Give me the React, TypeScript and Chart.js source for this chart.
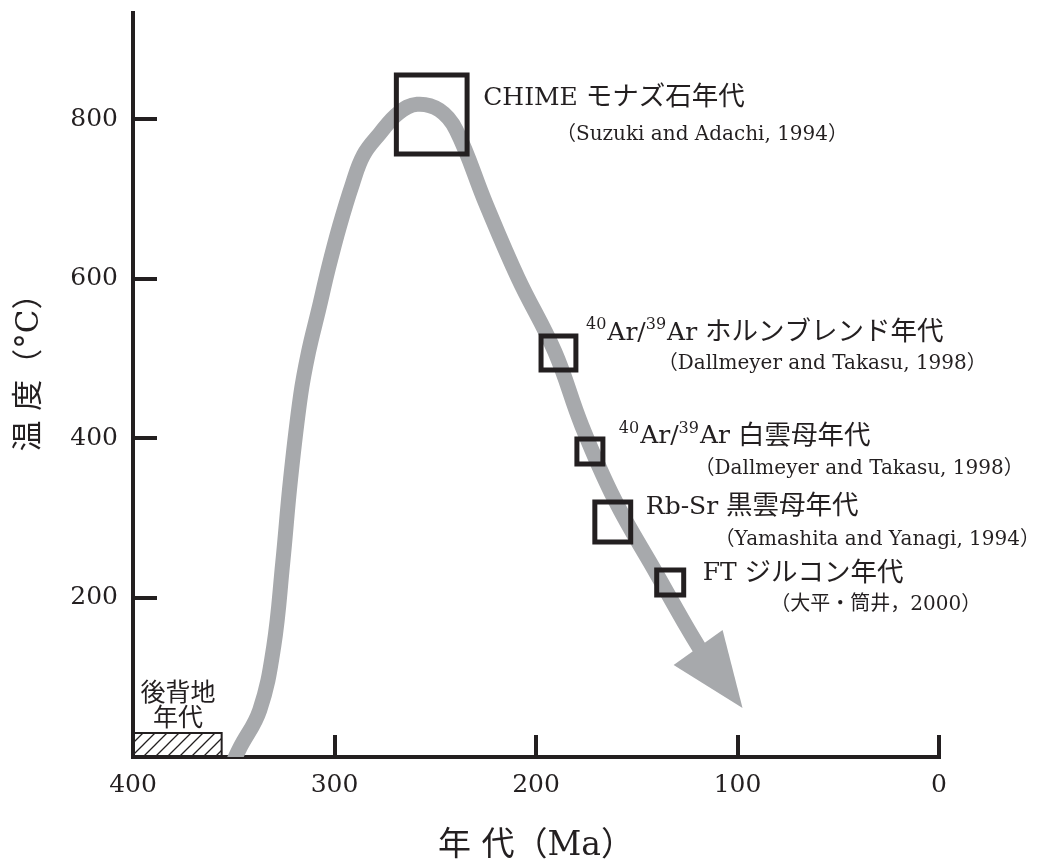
import React, { useEffect, useRef } from 'react';
import { Chart, registerables } from 'chart.js';

Chart.register(...registerables);

// ---------- data ----------
const xTickValues = [400, 300, 200, 100, 0];
const yTickValues = [200, 400, 600, 800];

// cooling path (age in Ma, temperature in °C)
const pathAge = [351, 347.0, 337.1, 330.2, 325.7, 321.8, 316.8, 312.9, 307.9, 303.0, 297.5, 291.1, 285.6, 277.7, 268.3, 259.0, 248.0, 239.6, 224.8, 208.9, 190.6, 177.2, 160.9, 140.1, 124.3, 116.8];
const pathTemp = [-10, 11.3, 58.9, 137.9, 243.3, 348.6, 453.9, 507.8, 560.5, 613.2, 665.8, 718.5, 754.9, 781.2, 807.5, 818.5, 811.3, 786.2, 693.4, 600.6, 507.8, 415.0, 322.3, 229.5, 159.2, 127.9];

// arrow head (barb, barb, tip)
const arrowHeadAge = [131.7, 107.4, 97.5];
const arrowHeadTemp = [115.4, 159.2, 61.4];

// dating boxes
const boxAgeOld = [269.3, 197.5, 179.7, 170.8, 140.1];
const boxAgeYoung = [234.2, 180.2, 166.8, 153.0, 126.7];
const boxTempHigh = [855.2, 527.9, 398.7, 319.7, 234.5];
const boxTempLow = [756.1, 485.3, 367.4, 269.6, 203.1];

// hinterland age box
const hinterlandAge = [400, 356];
const hinterlandTemp = [0, 30];

// labels
const labelMain = ['CHIME モナズ石年代', '{40}Ar/{39}Ar ホルンブレンド年代', '{40}Ar/{39}Ar 白雲母年代', 'Rb-Sr 黒雲母年代', 'FT ジルコン年代'];
const labelMainAge = [226.2, 175.2, 158.9, 145.5, 117.3];
const labelMainTemp = [826.3, 531.7, 401.3, 313.5, 229.5];
const labelCite = ['（Suzuki and Adachi, 1994）', '（Dallmeyer and Takasu, 1998）', '（Dallmeyer and Takasu, 1998）', '（Yamashita and Yanagi, 1994）', '（大平・筒井，2000）'];
const labelCiteAge = [190.1, 139.6, 121.3, 111.4, 83.7];
const labelCiteTemp = [779.9, 492.8, 361.1, 272.1, 190.6];
const hinterlandLabel = ['後背地', '年代'];
const hinterlandLabelAge = [377.7, 377.7];
const hinterlandLabelTemp = [79, 46.4];

const xTitle = '年 代（Ma）';
const yTitle = '温 度（°C）';

// ---------- style ----------
const INK = '#231f20';
const GRAY = '#a7a9ac';
const FONT = "'DejaVu Serif', 'Noto Sans CJK JP', serif";
const CJK_RE = /[\u3000-\u30ff\u4e00-\u9fff\uff00-\uffef]/;

function drawRich(ctx: CanvasRenderingContext2D, text: string, x: number, y: number, size: number, cjkSize: number) {
  const re = /\{([^}]*)\}|([^{]+)/g;
  let m: RegExpExecArray | null;
  let cx = x;
  while ((m = re.exec(text))) {
    if (m[1] !== undefined) {
      const s = Math.round(size * 0.64);
      ctx.font = `${s}px ${FONT}`;
      ctx.fillText(m[1], cx, y - size * 0.32);
      cx += ctx.measureText(m[1]).width + 1;
    } else {
      // split into CJK / non-CJK runs
      const runs = m[2].match(/[\u3000-\u30ff\u4e00-\u9fff\uff00-\uffef]+|[^\u3000-\u30ff\u4e00-\u9fff\uff00-\uffef]+/g) || [];
      for (const r of runs) {
        const isCjk = CJK_RE.test(r);
        ctx.font = `${isCjk ? cjkSize : size}px ${FONT}`;
        ctx.fillText(r, cx, y);
        cx += ctx.measureText(r).width;
      }
    }
  }
}

const annotationPlugin = {
  id: 'annotations',
  afterDraw(chart: any) {
    const { ctx } = chart;
    const x = chart.scales.x;
    const y = chart.scales.y;
    ctx.save();
    ctx.fillStyle = INK;
    ctx.textBaseline = 'middle';
    ctx.textAlign = 'left';
    labelMain.forEach((t, i) => {
      drawRich(ctx, t, x.getPixelForValue(labelMainAge[i]), y.getPixelForValue(labelMainTemp[i]), 25, 26.5);
    });
    labelCite.forEach((t, i) => {
      drawRich(ctx, t, x.getPixelForValue(labelCiteAge[i]), y.getPixelForValue(labelCiteTemp[i]), 20, 20);
    });
    ctx.textAlign = 'center';
    ctx.font = `25px ${FONT}`;
    hinterlandLabel.forEach((t, i) => {
      ctx.fillText(t, x.getPixelForValue(hinterlandLabelAge[i]), y.getPixelForValue(hinterlandLabelTemp[i]));
    });
    // y axis title
    ctx.font = `31px ${FONT}`;
    ctx.translate(y.left + 30, (y.top + y.bottom) / 2 - 20);
    ctx.rotate(-Math.PI / 2);
    ctx.fillText(yTitle, 0, 0);
    ctx.restore();
  },
};

export default function App() {
  const ref = useRef<HTMLCanvasElement | null>(null);
  useEffect(() => {
    const canvas = ref.current;
    if (!canvas) return;
    const ctx2d = canvas.getContext('2d')!;

    const pc = document.createElement('canvas');
    pc.width = 12;
    pc.height = 12;
    const g = pc.getContext('2d')!;
    g.strokeStyle = INK;
    g.lineWidth = 1.3;
    g.beginPath();
    g.moveTo(0, 12); g.lineTo(12, 0);
    g.moveTo(-3, 3); g.lineTo(3, -3);
    g.moveTo(9, 15); g.lineTo(15, 9);
    g.stroke();
    const hatch = ctx2d.createPattern(pc, 'repeat');

    const boxDatasets = boxAgeOld.map((_, i) => ({
      data: [
        { x: boxAgeOld[i], y: boxTempLow[i] },
        { x: boxAgeOld[i], y: boxTempHigh[i] },
        { x: boxAgeYoung[i], y: boxTempHigh[i] },
        { x: boxAgeYoung[i], y: boxTempLow[i] },
        { x: boxAgeOld[i], y: boxTempLow[i] },
      ],
      showLine: true,
      borderColor: INK,
      borderWidth: 5,
      borderJoinStyle: 'miter' as const,
      borderCapStyle: 'square' as const,
      pointRadius: 0,
      tension: 0,
      fill: false,
      order: 0,
    }));

    const chart = new Chart(canvas, {
      type: 'scatter',
      data: {
        datasets: [
          ...boxDatasets,
          {
            data: pathAge.map((a, i) => ({ x: a, y: pathTemp[i] })),
            showLine: true,
            borderColor: GRAY,
            borderWidth: 15,
            borderCapStyle: 'butt',
            borderJoinStyle: 'round',
            tension: 0.4,
            pointRadius: 0,
            fill: false,
            clip: 0,
            order: 2,
          } as any,
          {
            data: arrowHeadAge.map((a, i) => ({ x: a, y: arrowHeadTemp[i] })),
            showLine: true,
            borderWidth: 0,
            borderColor: GRAY,
            backgroundColor: GRAY,
            pointRadius: 0,
            tension: 0,
            fill: 'shape',
            order: 1,
          } as any,
          {
            data: [
              { x: hinterlandAge[0], y: hinterlandTemp[0] },
              { x: hinterlandAge[0], y: hinterlandTemp[1] },
              { x: hinterlandAge[1], y: hinterlandTemp[1] },
              { x: hinterlandAge[1], y: hinterlandTemp[0] },
            ],
            showLine: true,
            borderColor: INK,
            borderWidth: 2,
            borderJoinStyle: 'miter',
            backgroundColor: hatch,
            pointRadius: 0,
            tension: 0,
            fill: 'shape',
            order: 3,
          } as any,
        ],
      },
      options: {
        animation: false,
        responsive: true,
        maintainAspectRatio: false,
        devicePixelRatio: 1,
        layout: { padding: { top: 13, right: 102, bottom: 0, left: 0 } },
        plugins: { legend: { display: false }, tooltip: { enabled: false } },
        scales: {
          x: {
            type: 'linear',
            reverse: true,
            min: 0,
            max: 400,
            z: 1,
            afterBuildTicks: (s: any) => { s.ticks = xTickValues.map((v) => ({ value: v })); },
            afterFit: (s: any) => { s.height = 106; s.paddingLeft = 0; s.paddingRight = 0; },
            border: { display: true, color: INK, width: 4 },
            grid: { drawOnChartArea: false, drawTicks: true, tickLength: -22, tickWidth: 4, tickColor: INK, lineWidth: 4, color: INK },
            ticks: { color: INK, padding: 35, font: { family: FONT, size: 25 }, maxRotation: 0 },
            title: { display: true, text: xTitle, color: INK, font: { family: FONT, size: 33, lineHeight: 1 }, padding: { top: 0, bottom: 0 } },
          },
          y: {
            type: 'linear',
            min: 0,
            max: 933,
            z: 1,
            afterBuildTicks: (s: any) => { s.ticks = yTickValues.map((v) => ({ value: v })); },
            afterFit: (s: any) => { s.width = 133; s.paddingTop = 0; s.paddingBottom = 0; },
            border: { display: true, color: INK, width: 4 },
            grid: { drawOnChartArea: false, drawTicks: true, tickLength: -24, tickWidth: 4, tickColor: INK, lineWidth: 4, color: INK },
            ticks: { color: INK, padding: 39, font: { family: FONT, size: 25 } },
            title: { display: false },
          },
        },
      } as any,
      plugins: [annotationPlugin],
    });
    return () => chart.destroy();
  }, []);

  return (
    <div style={{ position: 'absolute', left: 0, top: 0, width: '1041px', height: '863px', background: '#fff' }}>
      <canvas ref={ref} />
    </div>
  );
}
